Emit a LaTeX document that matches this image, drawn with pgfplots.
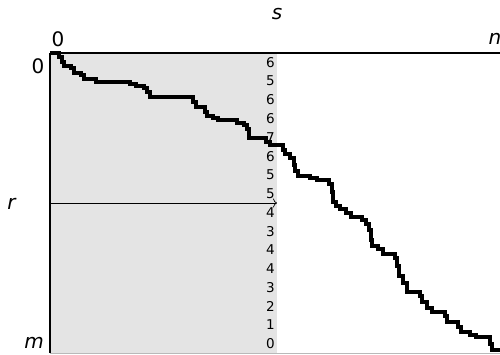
\documentclass[border=0pt]{standalone}
\usepackage{fontspec}
\setmainfont{DejaVu Sans}
\usepackage{pgfplots}
\pgfplotsset{compat=1.18}
\usetikzlibrary{arrows.meta}
\definecolor{shade}{RGB}{228,228,228}
\pgfplotstableread{
s r
0 0
9 4
12 9
14 13
21 15
24 20
31 22
34 26
46 29
80 31
86 33
94 35
97 39
100 44
143 49
146 54
155 59
157 63
163 65
168 67
187 70
194 72
197 76
199 85
216 89
220 92
233 97
235 101
240 105
244 112
245 118
248 123
260 125
267 127
279 131
282 139
283 149
286 153
290 156
296 160
301 164
312 167
316 171
319 177
321 187
322 193
328 196
333 201
345 205
347 213
349 223
353 230
357 239
370 243
372 249
377 255
382 259
395 263
397 269
408 274
411 279
420 282
426 284
440 291
442 297
450 297
}\staircase
\pgfplotstableread{
x y v
220.5 9.375 6
220.5 28.125 5
220.5 46.875 6
220.5 65.625 6
220.5 84.375 7
220.5 103.125 6
220.5 121.875 5
220.5 140.625 5
220.5 159.375 4
220.5 178.125 3
220.5 196.875 4
220.5 215.625 4
220.5 234.375 3
220.5 253.125 2
220.5 271.875 1
220.5 290.625 0
}\counts
\begin{document}
\begin{tikzpicture}
\useasboundingbox (-50pt,-1pt) rectangle (450pt,353pt);
\begin{axis}[
  at={(0pt,0pt)}, anchor=south west,
  scale only axis, width=450pt, height=300pt,
  xmin=0, xmax=450, ymin=0, ymax=300, y dir=reverse,
  axis x line*=top, axis y line*=left,
  axis line style={line width=1.8pt, black},
  xtick=\empty, ytick=\empty,
  axis on top=true,
  clip=false,
]
\addplot [fill=shade, draw=none] coordinates {(0,0) (227,0) (227,300) (0,300)} -- cycle;
\addplot [gray!55, line width=0.8pt] coordinates {(0,300) (450,300)};
\addplot [black, line width=0.7pt, -{To[length=4pt,width=9pt]}] coordinates {(0,150) (227,150)};
\addplot [draw=none, mark=none, nodes near coords, point meta=explicit symbolic,
  every node near coord/.style={anchor=center, inner sep=0pt, font=\fontsize{13.5}{15}\selectfont}]
  table [x=x, y=y, meta=v] {\counts};
\addplot [const plot, black, line width=3.7pt] table [x=s, y=r] {\staircase};
\node[inner sep=0pt, font=\fontsize{20}{24}\selectfont] at (axis cs:8,-14) {0};
\node[inner sep=0pt, font=\fontsize{20}{24}\selectfont] at (axis cs:445,-14) {\textit{n}};
\node[inner sep=0pt, font=\fontsize{20}{24}\selectfont] at (axis cs:227,-39) {\textit{s}};
\node[inner sep=0pt, font=\fontsize{20}{24}\selectfont] at (axis cs:-12,13) {0};
\node[inner sep=0pt, font=\fontsize{20}{24}\selectfont] at (axis cs:-16,289.5) {\textit{m}};
\node[inner sep=0pt, font=\fontsize{20}{24}\selectfont] at (axis cs:-38,151) {\textit{r}};
\end{axis}
\end{tikzpicture}
\end{document}
